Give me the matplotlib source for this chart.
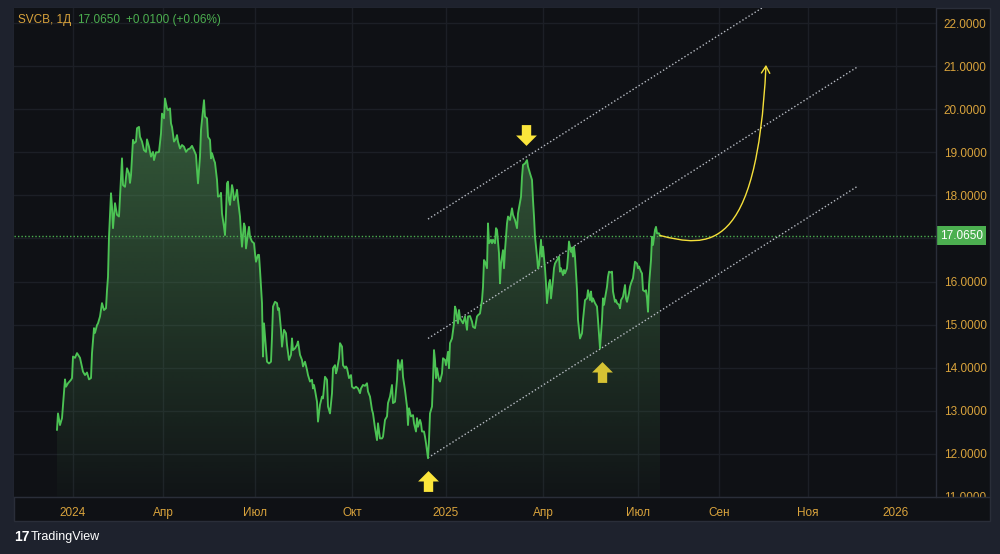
import matplotlib
matplotlib.use('Agg')
import matplotlib.pyplot as plt
import matplotlib.transforms as mtransforms
from matplotlib.patches import Polygon, Rectangle, FancyArrowPatch
from matplotlib.path import Path
import numpy as np

plt.rcParams['font.family'] = ['Liberation Sans', 'DejaVu Sans']

# daily bar index (trading days) and close price of SVCB
bar = [0, 1, 3, 5, 8, 9, 11, 14, 15, 16, 18, 20, 23, 26, 28, 30, 32, 34, 35, 37,
       38, 40, 41, 43, 45, 47, 49, 50, 51, 52, 54, 55, 56, 58, 60, 62, 63, 65, 66, 68,
       70, 72, 73, 74, 76, 77, 79, 80, 82, 83, 85, 87, 89, 90, 92, 94, 96, 97, 99, 101,
       102, 104, 105, 107, 108, 110, 111, 113, 114, 115, 117, 119, 120, 121, 123, 125, 127, 129, 131, 133,
       135, 137, 139, 140, 141, 143, 144, 146, 147, 148, 150, 151, 153, 154, 155, 157, 158, 160, 161, 163,
       164, 165, 167, 168, 169, 170, 171, 172, 173, 175, 176, 177, 179, 180, 181, 183, 184, 185, 187, 188,
       189, 191, 192, 193, 195, 197, 198, 199, 201, 202, 203, 205, 206, 207, 210, 212, 214, 215, 216, 218,
       220, 221, 222, 224, 225, 227, 229, 230, 232, 234, 235, 236, 238, 240, 241, 243, 245, 246, 248, 250,
       251, 253, 255, 256, 257, 258, 260, 261, 263, 265, 266, 268, 270, 271, 273, 275, 276, 278, 279, 280,
       282, 283, 285, 286, 288, 289, 290, 292, 294, 295, 297, 299, 301, 303, 304, 306, 308, 310, 311, 313,
       315, 316, 318, 320, 321, 323, 325, 326, 328, 330, 331, 333, 335, 336, 338, 340, 341, 343, 345, 346,
       348, 350, 351, 352, 354, 356, 357, 359, 360, 361, 363, 364, 365, 367, 368, 369, 371, 372, 373, 375,
       376, 377, 378, 379, 380, 382, 383, 385, 386, 388, 389, 391, 392, 393, 395, 397, 398, 399, 401, 402,
       403, 405, 406, 408, 410, 411, 413, 415, 416, 418, 420, 421, 423, 425, 426, 427, 428, 430, 431, 432,
       434, 435, 436, 438, 439, 440, 442, 443, 444, 446, 447, 448, 450, 451, 453, 455, 456, 458, 460, 461,
       463, 464, 465, 466, 468, 470, 471, 473, 475, 476, 477, 478, 480, 481, 482, 484, 485, 486, 488, 489,
       490, 492, 493, 494, 496, 497, 498, 500, 502, 503, 504, 506, 507, 508, 510, 511, 512, 514, 515, 516,
       517, 518, 520, 521, 523, 525, 526, 528, 530, 531, 533, 534, 535, 536, 538, 540, 541, 543, 545, 546,
       547, 548, 550, 551, 552, 554, 555, 556, 558, 559, 560, 562, 563, 564, 566, 568, 569, 570, 572, 573,
       574, 576, 577, 578, 580, 581, 582, 584, 585, 586, 588, 589, 590, 591, 592, 594, 595, 596, 598, 599,
       600, 602, 603]
close = [12.56, 12.94, 12.67, 12.83, 13.73, 13.56, 13.64, 13.72, 13.76, 14.26, 14.23, 14.34, 14.23, 13.91, 13.83, 13.89, 13.73, 13.76, 14.34, 14.92,
         14.81, 14.99, 15.03, 15.19, 15.50, 15.34, 15.38, 15.80, 16.11, 17.04, 18.05, 17.74, 17.24, 17.82, 17.55, 17.51, 17.97, 18.86, 18.24, 18.20,
         18.63, 18.51, 18.29, 18.47, 19.29, 19.21, 19.25, 19.56, 19.59, 19.36, 19.25, 19.05, 19.01, 19.30, 19.13, 18.90, 19.01, 18.82, 19.00, 19.00,
         19.01, 19.44, 19.90, 19.79, 20.25, 20.02, 19.98, 20.02, 19.67, 19.59, 19.25, 19.32, 19.40, 19.25, 19.09, 19.17, 19.13, 19.01, 19.07, 19.09,
         19.15, 19.05, 18.94, 18.59, 18.28, 18.90, 19.52, 19.98, 20.21, 19.83, 19.79, 19.36, 19.29, 18.86, 18.98, 18.82, 18.76, 18.36, 17.97, 17.99,
         18.06, 17.58, 17.27, 17.08, 17.58, 18.28, 18.32, 17.89, 17.78, 18.24, 18.13, 17.89, 18.01, 18.13, 17.89, 17.51, 17.12, 16.81, 17.35, 17.27,
         16.77, 17.12, 17.27, 17.04, 16.93, 16.89, 16.66, 16.46, 16.62, 16.62, 16.27, 15.50, 14.26, 15.03, 14.14, 14.10, 14.14, 14.72, 15.42, 15.53,
         15.50, 15.34, 15.38, 14.88, 14.49, 14.88, 14.80, 14.53, 14.18, 14.30, 14.68, 14.41, 14.45, 14.53, 14.61, 14.30, 14.18, 14.03, 14.14, 13.95,
         13.83, 13.68, 13.72, 13.52, 13.60, 13.48, 13.21, 12.75, 13.14, 13.33, 13.29, 13.79, 13.72, 13.10, 12.94, 13.41, 13.99, 14.06, 13.87, 13.95,
         14.22, 14.57, 14.49, 14.06, 13.99, 14.03, 13.99, 13.76, 13.83, 13.56, 13.52, 13.56, 13.52, 13.41, 13.52, 13.60, 13.58, 13.64, 13.45, 13.33,
         13.02, 12.94, 12.60, 12.32, 12.71, 12.36, 12.36, 12.40, 12.79, 12.87, 13.18, 13.33, 13.60, 13.18, 13.21, 13.72, 14.18, 13.95, 14.18, 13.79,
         13.48, 13.10, 12.67, 13.06, 12.87, 12.90, 12.71, 12.52, 12.83, 12.63, 12.79, 12.71, 12.52, 12.52, 12.40, 12.25, 11.90, 12.32, 12.94, 13.10,
         13.72, 14.41, 14.18, 13.76, 13.99, 13.72, 13.68, 13.87, 14.22, 14.18, 14.06, 14.37, 13.99, 14.57, 14.68, 15.03, 15.42, 15.34, 15.03, 15.34,
         15.15, 15.07, 15.03, 15.19, 14.88, 15.19, 15.20, 15.07, 14.95, 14.92, 15.19, 15.22, 15.26, 15.57, 15.88, 16.50, 16.46, 16.31, 17.35, 16.89,
         16.97, 16.89, 16.97, 16.89, 17.24, 17.20, 16.66, 15.96, 16.42, 16.73, 16.31, 16.73, 17.35, 17.51, 17.43, 17.70, 17.55, 17.43, 17.24, 17.58,
         17.85, 17.97, 18.43, 18.71, 18.74, 18.82, 18.67, 18.51, 18.36, 17.89, 17.51, 17.04, 16.58, 16.31, 16.38, 16.97, 16.58, 16.81, 16.31, 15.96,
         15.50, 15.96, 16.04, 15.61, 16.04, 16.31, 16.42, 16.50, 16.58, 16.23, 16.31, 16.15, 16.27, 16.19, 16.31, 16.58, 16.93, 16.69, 16.77, 16.58,
         16.81, 16.58, 15.80, 15.11, 14.68, 14.80, 15.11, 15.57, 15.61, 15.80, 15.57, 15.77, 15.53, 15.61, 15.50, 15.42, 15.11, 14.45, 15.11, 15.61,
         15.46, 15.61, 15.88, 16.11, 16.23, 16.21, 16.23, 15.77, 15.53, 15.57, 15.50, 15.46, 15.38, 15.57, 15.65, 15.92, 15.61, 15.53, 15.73, 15.88,
         15.96, 16.08, 16.27, 16.46, 16.42, 16.31, 16.35, 16.23, 16.19, 15.80, 15.77, 15.80, 15.61, 15.30, 15.92, 16.50, 17.04, 16.85, 17.20, 17.27,
         17.12, 17.12, 17.065]
assert len(bar) == len(close), (len(bar), len(close))

last_price = 17.065
header_parts = [('SVCB, 1Д', '#d9a33c'), ('17.0650', '#4caf50'), ('+0.0100 (+0.06%)', '#4caf50')]

# time scale labels and the bar where each one sits
tick_bar = [16, 106, 198, 295, 389, 486, 581, 662, 751, 839]
tick_lab = ['2024', 'Апр', 'Июл', 'Окт', '2025', 'Апр', 'Июл', 'Сен', 'Ноя', '2026']
price_ticks = list(range(11, 23))

# parallel channel: anchor bars and the lower line price at them, plus channel width
chan_bar = [371, 801]
chan_low = [11.91, 18.22]
chan_width = 5.54

# forecast curve (cubic bezier: start, two controls, end) and yellow marker arrows
curve_bar = [603, 650, 700, 709]
curve_price = [17.07, 16.80, 16.60, 21.03]
arrow_down = (469, 19.40)
arrow_up = [(545, 13.90), (371, 11.37)]

BG = '#1e222d'
PANE = '#0f1115'
GRID = '#1c1f26'
GOLD = '#d9a33c'
GREEN = '#4caf50'
LINE = '#4cc354'

W, H = 1000, 554
fig = plt.figure(figsize=(W / 100, H / 100), dpi=100, facecolor=BG)
fig.patches.append(Rectangle((14 / W, 1 - 521 / H), (990 - 14) / W, (521 - 8) / H,
                             transform=fig.transFigure, facecolor=PANE, edgecolor='#2a2e39',
                             lw=1, zorder=-5))
ax = fig.add_axes([14 / W, 1 - 497 / H, (936 - 14) / W, (497 - 8) / H], facecolor=PANE)
ax.set_xlim(-43, 879)
ax.set_ylim(11.0, 22.35)
for s in ax.spines.values():
    s.set_visible(False)

ax.set_yticks(price_ticks)
ax.set_xticks(tick_bar)
ax.grid(True, color=GRID, lw=1)
ax.set_axisbelow(True)
ax.yaxis.tick_right()
# the 17.0000 label sits under the last price badge
ax.set_yticklabels(['' if v == 17 else f'{v:.4f}' for v in price_ticks])
ax.set_xticklabels(tick_lab)
ax.tick_params(axis='both', length=0, colors=GOLD, labelsize=8.5)
ax.tick_params(axis='y', pad=5.5)
ax.tick_params(axis='x', pad=7)
# price scale labels are cut at the time scale border, like 11.0000 in the original
scale_box = mtransforms.TransformedBbox(
    mtransforms.Bbox([[936 / W, 1 - 497 / H], [990 / W, 1 - 8 / H]]), fig.transFigure)
for lab in ax.get_yticklabels():
    lab.set_clip_on(True)
    lab.set_clip_box(scale_box)

# separators of price and time scales
fig.add_artist(plt.Line2D([936 / W, 936 / W], [1 - 497 / H, 1 - 8 / H], color='#2a2e39', lw=1))
fig.add_artist(plt.Line2D([14 / W, 990 / W], [1 - 497 / H, 1 - 497 / H], color='#2a2e39', lw=1))

# area with vertical gradient under the price line
x = np.array(bar)
y = np.array(close)
verts = [(x[0], 11.0)] + list(zip(x, y)) + [(x[-1], 11.0)]
poly = Polygon(verts, closed=True, facecolor='none', edgecolor='none')
ax.add_patch(poly)
grad = np.zeros((256, 1, 4))
grad[..., 0], grad[..., 1], grad[..., 2] = 0.33, 0.60, 0.35
grad[:, 0, 3] = np.linspace(0.03, 0.55, 256)
im = ax.imshow(grad, extent=[x[0], x[-1], 11.0, y.max()], origin='lower',
               aspect='auto', zorder=1, interpolation='bilinear')
im.set_clip_path(poly)
ax.plot(x, y, color=LINE, lw=1.35, zorder=3, solid_joinstyle='round')

# last price line and badge
ax.axhline(last_price, color=GREEN, lw=1, ls=(0, (1, 1.5)), zorder=2)
trans = mtransforms.blended_transform_factory(ax.transAxes, ax.transData)
ax.text(1.004, last_price, '17.0650', transform=trans, color='white', fontsize=8.5,
        va='center', ha='left', clip_on=False,
        bbox=dict(boxstyle='square,pad=0.3', fc=GREEN, ec='none'))

# parallel channel
cb = np.array(chan_bar, dtype=float)
cl = np.array(chan_low)
for off in (0, chan_width / 2, chan_width):
    ax.plot(cb, cl + off, color='#b8bcc4', lw=1, ls=(0, (1, 1.6)), zorder=2)

# forecast curve with open arrow head
curve = Path(list(zip(curve_bar, curve_price)),
             [Path.MOVETO, Path.CURVE4, Path.CURVE4, Path.CURVE4])
ax.add_patch(FancyArrowPatch(path=curve, arrowstyle='->,head_length=5,head_width=3',
                             color='#f5e03a', lw=1.0, zorder=4, mutation_scale=1))

# yellow block arrows
up_marker = Path([(0, 10), (10, 0), (4.5, 0), (4.5, -10), (-4.5, -10), (-4.5, 0), (-10, 0), (0, 10)],
                 [Path.MOVETO] + [Path.LINETO] * 6 + [Path.CLOSEPOLY])
down_marker = Path(up_marker.vertices * [1, -1], up_marker.codes)
ax.plot(*arrow_down, marker=down_marker, ms=15, color='#fbe53b', mec='none', zorder=5)
ax.plot(*arrow_up[0], marker=up_marker, ms=15, color='#d6c233', mec='none', zorder=5)
ax.plot(*arrow_up[1], marker=up_marker, ms=15, color='#fbe53b', mec='none', zorder=5)

# header legend
xpos = 18 / W
r = fig.canvas.get_renderer()
for txt, col in header_parts:
    t = fig.text(xpos, 1 - 20 / H, txt, color=col, fontsize=8.5, va='center', ha='left')
    bb = t.get_window_extent(renderer=r)
    xpos += (bb.width + 6) / W

# branding
fig.text(14 / W, 1 - 537 / H, '17', color='white', fontsize=10, fontweight='bold', va='center', ha='left')
fig.text(31 / W, 1 - 537 / H, 'TradingView', color='white', fontsize=9, va='center', ha='left')

fig.savefig('out.png', dpi=100, facecolor=BG)
